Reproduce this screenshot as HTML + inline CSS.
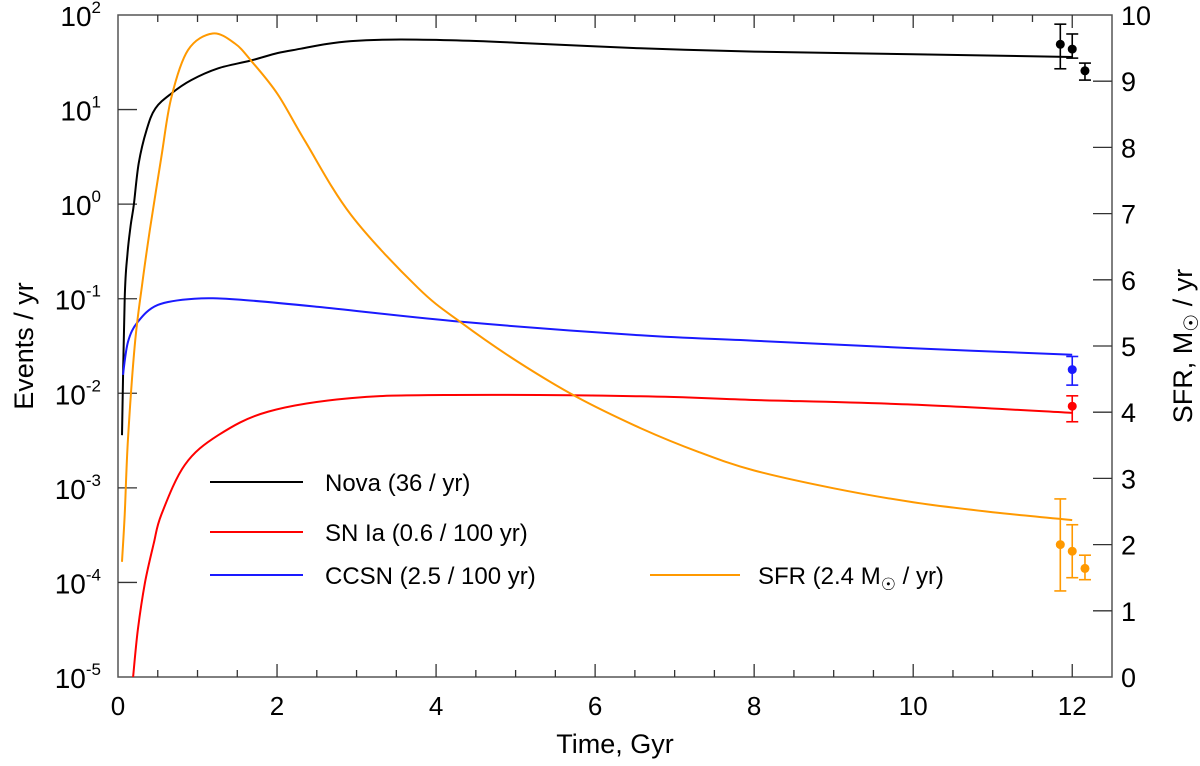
<!DOCTYPE html>
<html><head><meta charset="utf-8"><style>
body{margin:0;background:#fff;}
svg{display:block;font-family:"Liberation Sans",sans-serif;}
</style></head><body>
<svg id="c" width="1200" height="766"></svg>
<script>
const xTicks=[0,2,4,6,8,10,12];
const leftExp=[2,1,0,-1,-2,-3,-4,-5];
const rightTicks=[0,1,2,3,4,5,6,7,8,9,10];
const novaT=[0.05,0.084,0.12,0.16,0.2,0.26,0.36,0.47,0.67,0.92,1.26,1.67,2.01,2.3,2.6,2.93,3.44,4.19,5,6.57,8,10,12];
const novaV=[0.0036,0.1,0.3,0.6,1.0,2.7,6.1,10.3,14.8,20.5,27.3,33,39.6,44,49,53,55,54,51,44.5,41,38.5,36];
const ccsnT=[0.063,0.126,0.25,0.5,0.96,1.5,2.52,4.32,6.57,8,10,12];
const ccsnV=[0.0157,0.035,0.057,0.086,0.1,0.098,0.082,0.057,0.041,0.036,0.030,0.0255];
const snT=[0.19,0.25,0.34,0.45,0.545,0.84,1.26,1.89,2.93,4.19,6.57,8,10,12];
const snV=[1e-5,3.2e-5,1e-4,2.6e-4,5.2e-4,0.00175,0.0036,0.0064,0.0089,0.0096,0.0093,0.0085,0.0076,0.0062];
const sfrT=[0.05,0.084,0.126,0.21,0.3,0.4,0.545,0.67,0.88,1.19,1.47,1.68,2.01,2.35,2.93,3.77,4.32,5.03,5.77,6.57,7.3,8,9,10,11,12];
const sfrV=[1.74,2.45,3.6,5.0,5.9,6.75,7.85,8.75,9.47,9.72,9.57,9.3,8.8,8.1,6.98,5.88,5.35,4.76,4.23,3.76,3.4,3.12,2.85,2.64,2.49,2.37];
const novaObsT=[11.85,12.0,12.16],novaObsV=[49,43.6,25.7],novaObsHi=[80,63,31],novaObsLo=[27,35,20.5];
const sfrObsT=[11.85,12.0,12.16],sfrObsV=[2.0,1.9,1.64],sfrObsHi=[2.69,2.3,1.84],sfrObsLo=[1.30,1.5,1.47];
const ccsnObsT=[12.0],ccsnObsV=[0.0178],ccsnObsHi=[0.0245],ccsnObsLo=[0.0122];
const snObsT=[12.0],snObsV=[0.0073],snObsHi=[0.0094],snObsLo=[0.0050];

const L=118,R=1112,T=15,B=677;
const X=t=>L+t*(R-L)/12.5;
const YL=v=>T+(2-Math.log10(v))*(B-T)/7;
const YR=v=>B-v*(B-T)/10;
const svg=document.getElementById('c');
const NS='http://www.w3.org/2000/svg';
function mk(tag,attrs,parent){const e=document.createElementNS(NS,tag);for(const k in attrs)e.setAttribute(k,attrs[k]);(parent||svg).appendChild(e);return e;}

let g=mk('g',{});


mk('rect',{x:L,y:T,width:R-L,height:B-T,fill:'none',stroke:'#555','stroke-width':1.5},g);
for(let t=0.5;t<12.5;t+=0.5){const big=Math.abs(t%2)<1e-6;const x=X(t);
 mk('line',{x1:x,x2:x,y1:B,y2:B-(big?13:7),stroke:'#333','stroke-width':1.3},g);
 mk('line',{x1:x,x2:x,y1:T,y2:T+(big?13:7),stroke:'#333','stroke-width':1.3},g);}
xTicks.forEach(t=>{const e=mk('text',{x:X(t),y:715,'font-size':26,'text-anchor':'middle'});e.textContent=t;
 
 });
leftExp.forEach(p=>{const y=YL(Math.pow(10,p));
 if(p<2&&p>-5)mk('line',{x1:L,x2:L+19,y1:y,y2:y,stroke:'#333','stroke-width':1.3},g);
 const e=mk('text',{x:101,y:y+11,'font-size':28,'text-anchor':'end'});
 e.innerHTML='10<tspan dy="-13" font-size="17">'+p+'</tspan>';
 
 });
rightTicks.forEach(v=>{const y=YR(v);
 if(v>0&&v<10)mk('line',{x1:R-19,x2:R,y1:y,y2:y,stroke:'#333','stroke-width':1.3},g);
 const e=mk('text',{x:1121,y:y+10,'font-size':27});e.textContent=v;
 
 });

let t1=mk('text',{x:615,y:753,'font-size':27,'text-anchor':'middle'});t1.textContent='Time, Gyr';


let t2=mk('text',{x:0,y:0,'font-size':27,'text-anchor':'middle',transform:'translate(33,346) rotate(-90)'});t2.textContent='Events / yr';


let t3=mk('text',{x:0,y:0,'font-size':27,'text-anchor':'middle',transform:'translate(1192,346) rotate(-90)'});t3.innerHTML='SFR, M<tspan dy="6" font-size="20">☉</tspan><tspan dy="-6"> / yr</tspan>';



function line(ts,vs,Y,color,name){
 const P=ts.map((t,i)=>[X(t),Math.min(B,Y(vs[i]))]);
 let d='M'+P[0][0].toFixed(1)+','+P[0][1].toFixed(1);
 for(let i=0;i<P.length-1;i++){
  const p0=P[Math.max(0,i-1)],p1=P[i],p2=P[i+1],p3=P[Math.min(P.length-1,i+2)];
  const c1=[p1[0]+(p2[0]-p0[0])/6,p1[1]+(p2[1]-p0[1])/6];
  const c2=[p2[0]-(p3[0]-p1[0])/6,p2[1]-(p3[1]-p1[1])/6];
  d+='C'+c1.map(v=>v.toFixed(1)).join(',')+' '+c2.map(v=>v.toFixed(1)).join(',')+' '+p2[0].toFixed(1)+','+p2[1].toFixed(1);}
 const p=mk('path',{d:d,fill:'none',stroke:color,'stroke-width':2,'stroke-linejoin':'round'});
 
 }
line(novaT,novaV,YL,'#000','nova-line');
line(ccsnT,ccsnV,YL,'#1a1aff','ccsn-line');
line(snT,snV,YL,'#ff0000','sn-ia-line');
line(sfrT,sfrV,YR,'#ff9900','sfr-line');

function pts(ts,vs,hi,lo,Y,color,name){ts.forEach((t,i)=>{const x=X(t);const gg=mk('g',{stroke:color,'stroke-width':1.6,fill:color});
 
 
 const yh=Y(hi[i]),yl=Y(lo[i]);
 mk('line',{x1:x,x2:x,y1:yh,y2:yl},gg);
 mk('line',{x1:x-6,x2:x+6,y1:yh,y2:yh},gg);
 mk('line',{x1:x-6,x2:x+6,y1:yl,y2:yl},gg);
 mk('circle',{cx:x,cy:Y(vs[i]),r:4.5,stroke:'none'},gg);});}
pts(novaObsT,novaObsV,novaObsHi,novaObsLo,YL,'#000','nova-observation');
pts(ccsnObsT,ccsnObsV,ccsnObsHi,ccsnObsLo,YL,'#1a1aff','ccsn-observation');
pts(snObsT,snObsV,snObsHi,snObsLo,YL,'#ff0000','sn-ia-observation');
pts(sfrObsT,sfrObsV,sfrObsHi,sfrObsLo,YR,'#ff9900','sfr-observation');

const leg=[[210,303,325,491,'#000','Nova (36 / yr)'],[210,303,325,541,'#ff0000','SN Ia (0.6 / 100 yr)'],[210,303,325,584,'#1a1aff','CCSN (2.5 / 100 yr)'],[650,740,758,584,'#ff9900','SFR (2.4 M<tspan dy="6" font-size="17">☉</tspan><tspan dy="-6"> / yr)</tspan>']];
leg.forEach(l=>{const gg=mk('g',{});
 
 
 mk('line',{x1:l[0],x2:l[1],y1:l[3]-9,y2:l[3]-9,stroke:l[4],'stroke-width':2},gg);
 const e=mk('text',{x:l[2],y:l[3],'font-size':24},gg);e.innerHTML=l[5];});
</script>
</body></html>
